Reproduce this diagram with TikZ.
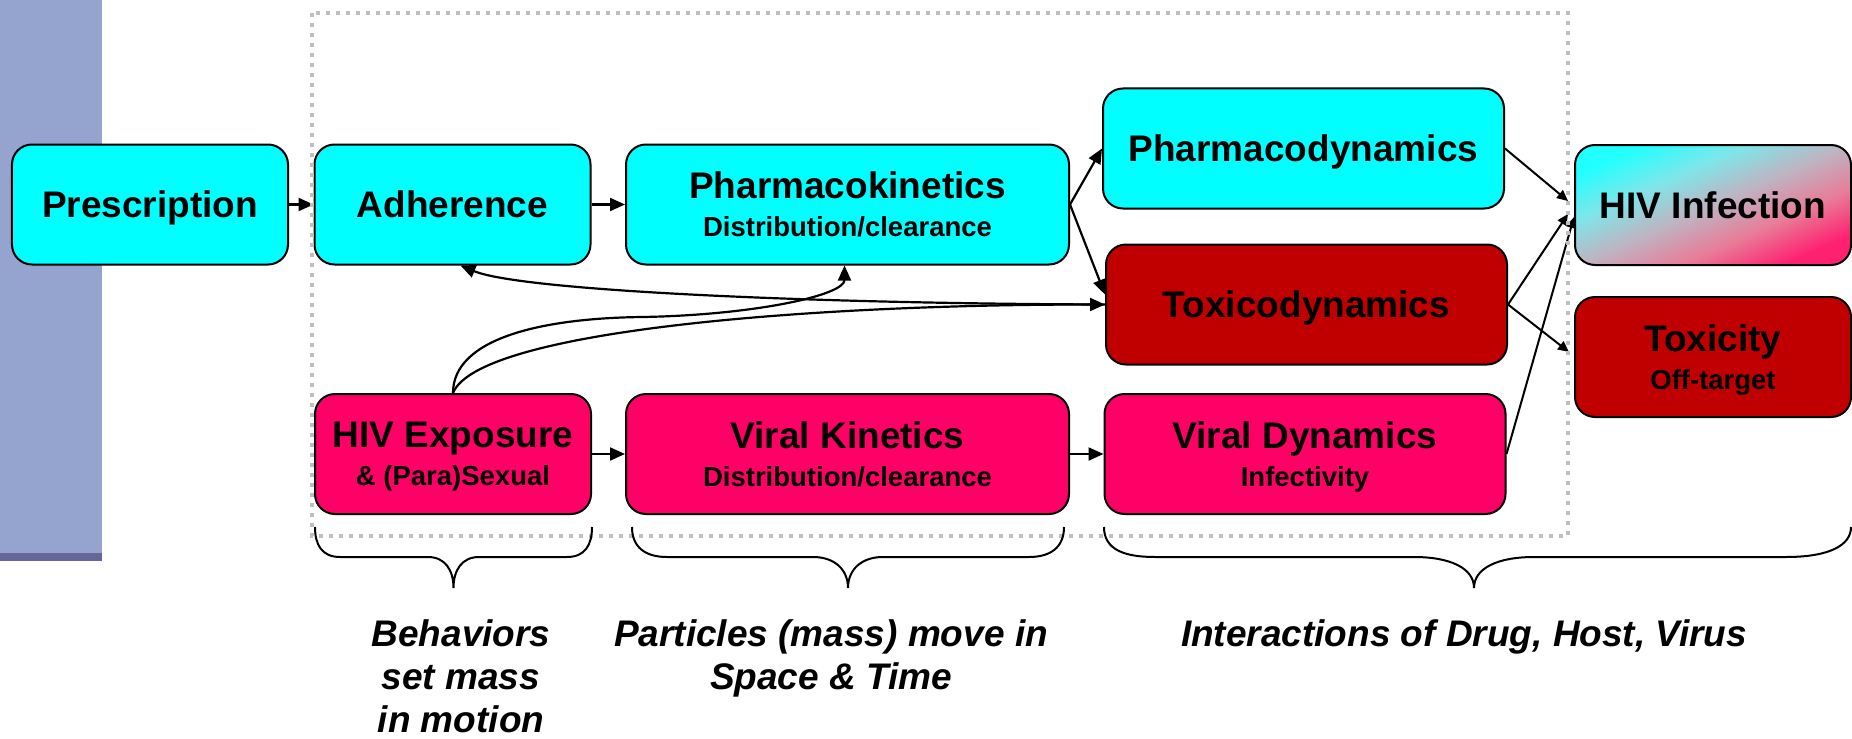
\documentclass[tikz,border=0pt]{standalone}
\usepackage{fontspec}
\setmainfont{Liberation Sans}
\usetikzlibrary{arrows.meta}

\definecolor{boxcyan}{HTML}{00FFFF}
\definecolor{boxpink}{HTML}{FF0066}
\definecolor{boxred}{HTML}{C00000}
\definecolor{bandblue}{HTML}{95A3CF}
\definecolor{banddark}{HTML}{666699}
\definecolor{framegray}{HTML}{BFBFBF}
\definecolor{infcyan}{HTML}{22FFFF}
\definecolor{infteal}{HTML}{7EE6EA}
\definecolor{infmid}{HTML}{BEB4C2}
\definecolor{infrose}{HTML}{E87C98}
\definecolor{infpink}{HTML}{FF2070}

% diagonal fill of the HIV Infection box
\pgfdeclareverticalshading{infshade}{100bp}{color(0bp)=(infpink); color(25bp)=(infpink);
  color(37.5bp)=(infrose); color(50bp)=(infmid); color(62.5bp)=(infteal);
  color(75bp)=(infcyan); color(100bp)=(infcyan)}

\newcommand\boxtitle{\fontsize{37bp}{38bp}\selectfont\bfseries}
\newcommand\boxsub{\fontsize{27.5bp}{38bp}\selectfont\bfseries}
\newcommand\captext{\fontsize{37bp}{43bp}\selectfont\bfseries\itshape}

\tikzset{
  box/.style={draw=black, line width=2bp, rounded corners=20bp,
    minimum height=120bp, inner sep=0pt, align=center, font=\boxtitle,
    text depth=0pt},
  smallbox/.style={box, minimum width=276bp},
  midbox/.style={box, minimum width=443bp},
  widebox/.style={box, minimum width=401bp},
  link/.style={line width=2.2bp, -{Triangle[length=15bp,width=13bp]}},
  thinlink/.style={line width=2bp, -{Triangle[length=11bp,width=10bp]}},
  bracket/.style={line width=2bp},
  caption/.style={font=\captext, align=center, inner sep=0pt, anchor=north},
}

\begin{document}
\begin{tikzpicture}[x=1bp,y=-1bp]
\useasboundingbox (0,0) rectangle (1852,739);

% side band
\fill[bandblue] (0,0) rectangle (102,553);
\fill[banddark] (0,553) rectangle (102,561);

% process boxes
\node[smallbox, fill=boxcyan] (presc) at (150,204.5) {Prescription};
\node[smallbox, fill=boxcyan] (adh) at (452.5,204.5) {Adherence};
\node[midbox, fill=boxcyan] (pk) at (847.5,204.5) {Pharmacokinetics\\{\boxsub Distribution/clearance}};
\node[widebox, fill=boxcyan] (pd) at (1303.5,148.5) {Pharmacodynamics};
\node[widebox, fill=boxred] (tox) at (1306.5,304.5) {Toxicodynamics};
\node[smallbox, shading=infshade, shading angle=24] (inf) at (1713,205) {HIV Infection};
\node[smallbox, fill=boxred] (toxicity) at (1713,357) {Toxicity\\{\boxsub Off-target}};
\node[smallbox, fill=boxpink] (exp) at (453,454) {HIV Exposure\\{\boxsub \& (Para)Sexual}};
\node[midbox, fill=boxpink] (vk) at (847.5,454) {Viral Kinetics\\{\boxsub Distribution/clearance}};
\node[widebox, fill=boxpink] (vd) at (1305,454) {Viral Dynamics\\{\boxsub Infectivity}};

% straight connectors
\draw[link] (presc) -- (adh);
\draw[link] (adh) -- (pk);
\draw[link] (exp) -- (vk);
\draw[link] (vk.east) -- (vk.east -| vd.west);
\draw[link] (pk.east) -- (pd.west);
\draw[link] (pk.east) -- ([yshift=10bp]tox.west);
\draw[thinlink] (pd.east) -- ([xshift=-6bp,yshift=4bp]inf.west);
\draw[thinlink] (tox.east) -- ([xshift=-6bp,yshift=-9bp]inf.west);
\draw[thinlink] (vd.east) -- ([yshift=-12bp]inf.west);
\draw[thinlink] (tox.east) -- ([xshift=-5bp,yshift=5bp]toxicity.west);

% curved connectors
\draw[link] (exp.north) .. controls +(0,-55) and +(-100,1) .. ++(190,-76)
  .. controls +(110,-2) and +(0,30) .. ([xshift=-3bp]pk.south);
\draw[link] (exp.north) .. controls +(25,-62) and +(-300,0) .. (tox.west);
\draw[link] (tox.west) .. controls +(-300,-1) and +(60,25) .. ([xshift=8bp]adh.south);

% dotted frame
\draw[framegray, line width=4bp, dash pattern=on 4bp off 6bp] (312,13) rectangle (1568,536);

% braces
\draw[bracket] (315,527) .. controls (315,545) and (322,557) .. (340,557) -- (428,557)
  .. controls (445,557) and (453.5,570) .. (453.5,588)
  .. controls (453.5,570) and (462,557) .. (479,557) -- (567,557)
  .. controls (585,557) and (592,545) .. (592,527);
\draw[bracket] (632,527) .. controls (632,547) and (645,557) .. (667,557) -- (813,557)
  .. controls (835,557) and (848,570) .. (848,588)
  .. controls (848,570) and (861,557) .. (883,557) -- (1029,557)
  .. controls (1051,557) and (1064,547) .. (1064,527);
\draw[bracket] (1104,527) .. controls (1104,550) and (1125,557) .. (1155,557) -- (1414,557)
  .. controls (1450,557) and (1474,568) .. (1474,588)
  .. controls (1474,568) and (1498,557) .. (1534,557) -- (1786,557)
  .. controls (1830,557) and (1851,545) .. (1851,527);

% captions
\node[caption] (capbeh) at (461,619) {Behaviors\\set mass\\in motion};
\node[caption] (cappart) at (831,619) {Particles (mass) move in\\Space \& Time};
\node[caption] (capint) at (1464,619) {Interactions of Drug, Host, Virus};
\end{tikzpicture}
\end{document}
